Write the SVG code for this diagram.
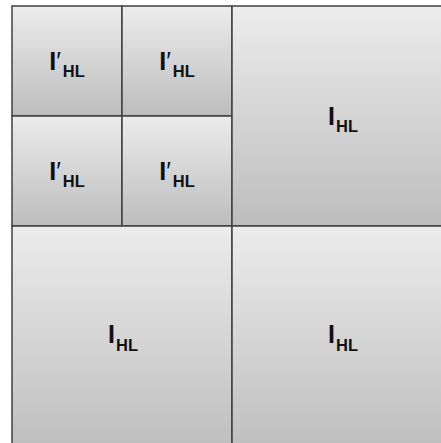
<svg xmlns="http://www.w3.org/2000/svg" width="441" height="443" viewBox="0 0 441 443">
<defs>
<linearGradient id="g" x1="0" y1="0" x2="0" y2="1">
<stop offset="0" stop-color="#ececec"/>
<stop offset="1" stop-color="#bdbdbd"/>
</linearGradient>
</defs>
<style>
.box{fill:url(#g);stroke:#404040;stroke-width:1.5}
.lbl{font-family:"Liberation Sans",Arial,sans-serif;font-size:25px;font-weight:bold;fill:#111;text-anchor:middle}
.pr{font-weight:normal}
.sub{font-size:16.5px;font-weight:bold}
</style>
<rect width="441" height="443" fill="#ffffff"/>
<g id="n1"><rect class="box" x="12" y="6" width="110" height="110"/><text class="lbl" x="67" y="70">I<tspan class="pr">′</tspan><tspan class="sub" dx="2" dy="7">HL</tspan></text></g>
<g id="n2"><rect class="box" x="122" y="6" width="110" height="110"/><text class="lbl" x="177" y="70">I<tspan class="pr">′</tspan><tspan class="sub" dx="2" dy="7">HL</tspan></text></g>
<g id="n3"><rect class="box" x="12" y="116" width="110" height="110"/><text class="lbl" x="67" y="180">I<tspan class="pr">′</tspan><tspan class="sub" dx="2" dy="7">HL</tspan></text></g>
<g id="n4"><rect class="box" x="122" y="116" width="110" height="110"/><text class="lbl" x="177" y="180">I<tspan class="pr">′</tspan><tspan class="sub" dx="2" dy="7">HL</tspan></text></g>
<g id="n5"><rect class="box" x="232" y="6" width="222" height="220"/><text class="lbl" x="343" y="125">I<tspan class="sub" dx="1" dy="7">HL</tspan></text></g>
<g id="n6"><rect class="box" x="12" y="226" width="220" height="230"/><text class="lbl" x="123" y="343">I<tspan class="sub" dx="1" dy="8">HL</tspan></text></g>
<g id="n7"><rect class="box" x="232" y="226" width="222" height="230"/><text class="lbl" x="343" y="343">I<tspan class="sub" dx="1" dy="8">HL</tspan></text></g>
<g id="connectors"></g>
</svg>
